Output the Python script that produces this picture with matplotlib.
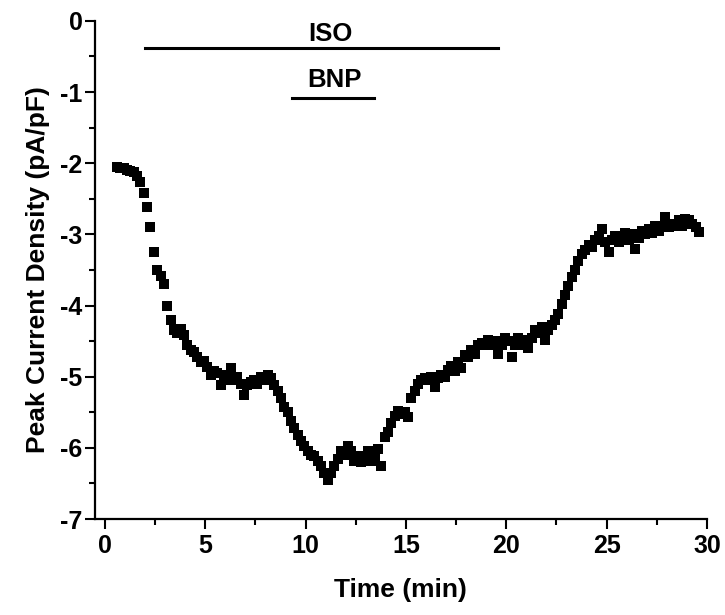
import numpy as np
import matplotlib
matplotlib.use("Agg")
import matplotlib.pyplot as plt
from matplotlib.ticker import MultipleLocator

plt.rcParams['font.family'] = ['Liberation Sans', 'DejaVu Sans']
plt.rcParams['font.weight'] = 'bold'
plt.rcParams['axes.unicode_minus'] = False

# recording: one sweep every 10 s starting at 0.6 min
t_start = 0.6
dt = 1 / 6
current = [
    -2.05, -2.07, -2.06, -2.09, -2.11, -2.13,
    -2.18, -2.27, -2.42, -2.62, -2.90, -3.25,
    -3.50, -3.58, -3.70, -4.00, -4.20, -4.35,
    -4.38, -4.33, -4.42, -4.55, -4.62, -4.65,
    -4.72, -4.80, -4.78, -4.86, -4.98, -4.92,
    -4.95, -5.12, -5.05, -4.98, -4.88, -5.05,
    -5.00, -5.10, -5.25, -5.12, -5.08, -5.05,
    -5.10, -5.00, -5.05, -4.98, -5.02, -5.12,
    -5.20, -5.30, -5.42, -5.50, -5.62, -5.72,
    -5.82, -5.90, -5.98, -6.05, -6.10, -6.12,
    -6.18, -6.25, -6.35, -6.45, -6.35, -6.25,
    -6.15, -6.05, -6.10, -5.98, -6.05, -6.18,
    -6.12, -6.20, -6.15, -6.05, -6.18, -6.12,
    -6.02, -6.25, -5.85, -5.78, -5.65, -5.55,
    -5.48, -5.52, -5.50, -5.56, -5.30, -5.20,
    -5.10, -5.05, -5.02, -5.05, -5.00, -5.15,
    -5.02, -4.98, -5.00, -4.90, -4.85, -4.92,
    -4.80, -4.88, -4.70, -4.72, -4.62, -4.68,
    -4.55, -4.52, -4.55, -4.48, -4.55, -4.50,
    -4.68, -4.55, -4.45, -4.50, -4.72, -4.55,
    -4.45, -4.55, -4.48, -4.60, -4.45, -4.35,
    -4.38, -4.30, -4.48, -4.35, -4.28, -4.20,
    -4.12, -3.98, -3.85, -3.72, -3.60, -3.50,
    -3.38, -3.28, -3.22, -3.15, -3.18, -3.08,
    -3.02, -2.92, -3.10, -3.25, -3.08, -3.02,
    -3.10, -3.05, -2.98, -3.08, -3.00, -3.20,
    -3.05, -2.95, -3.00, -2.92, -2.98, -2.88,
    -2.95, -2.90, -2.75, -2.90, -2.88, -2.85,
    -2.80, -2.88, -2.78, -2.80, -2.85, -2.90,
    -2.96,
]
time = t_start + dt * np.arange(len(current))

# drug application bars (start, end, level) and labels
iso_span = [2.0, 19.6]
iso_level = -0.38
bnp_span = [9.3, 13.4]
bnp_level = -1.08

fig = plt.figure(figsize=(7.25, 6.15), dpi=100)
ax = fig.add_axes([0.131, 0.156, 0.844, 0.81])

ax.plot(time, current, 's', color='black', markersize=6.5, markeredgewidth=0)

ax.plot(iso_span, [iso_level, iso_level], color='black', lw=2.2)
ax.plot(bnp_span, [bnp_level, bnp_level], color='black', lw=2.2)
ax.text(11.25, -0.28, 'ISO', ha='center', va='baseline', fontsize=18.5, fontweight='bold')
ax.text(11.45, -0.93, 'BNP', ha='center', va='baseline', fontsize=18.5, fontweight='bold')

ax.set_xlim(-0.5, 30)
ax.set_ylim(-7, 0)
ax.xaxis.set_major_locator(MultipleLocator(5))
ax.xaxis.set_minor_locator(MultipleLocator(2.5))
ax.yaxis.set_major_locator(MultipleLocator(1))
ax.yaxis.set_minor_locator(MultipleLocator(0.5))

ax.spines['top'].set_visible(False)
ax.spines['right'].set_visible(False)
ax.spines['left'].set_linewidth(1.6)
ax.spines['bottom'].set_linewidth(1.6)
ax.tick_params(which='major', direction='out', length=7, width=1.5, labelsize=18, pad=2)
ax.tick_params(which='minor', direction='out', length=4.5, width=1.5)
ax.tick_params(axis='x', which='major', pad=4)
for lab in ax.get_xticklabels() + ax.get_yticklabels():
    lab.set_fontweight('bold')

ax.set_xlabel('Time (min)', fontsize=19, fontweight='bold', labelpad=14)
ax.set_ylabel('Peak Current Density (pA/pF)', fontsize=19, fontweight='bold', labelpad=7)

fig.savefig('out.png', dpi=100)
